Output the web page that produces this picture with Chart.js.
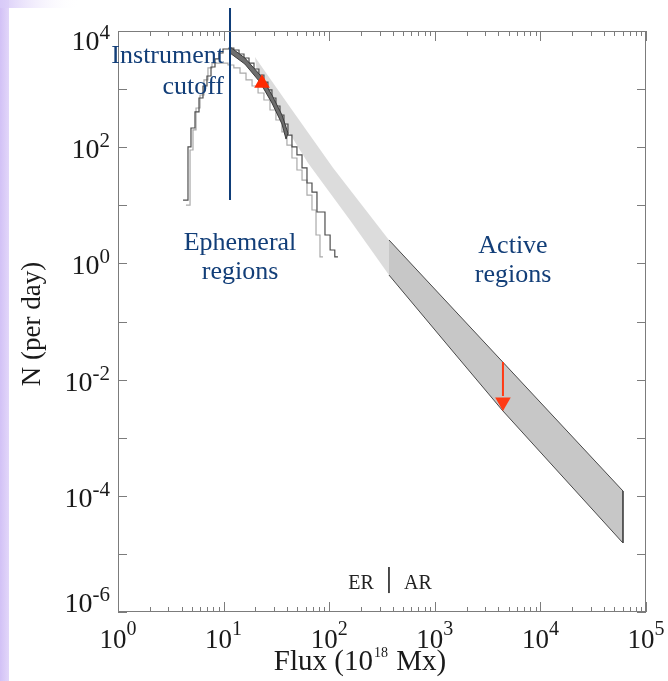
<!DOCTYPE html>
<html>
<head>
<meta charset="utf-8">
<script src="https://cdn.jsdelivr.net/npm/chart.js@4.4.1/dist/chart.umd.min.js"></script>
<style>
  html, body { margin: 0; padding: 0; background: #fff; }
  canvas { display: block; }
</style>
</head>
<body>
<canvas id="c" width="668" height="681"></canvas>
<script>
// axis ticks
const xTickValues = [1, 10, 100, 1000, 10000, 100000];
const xTickExps = ['0', '1', '2', '3', '4', '5'];
const yTickValues = [1e-6, 1e-4, 1e-2, 1, 100, 10000];
const yTickExps = ['-6', '-4', '-2', '0', '2', '4'];

// ER histograms (bin left edges, counts per day)
const darkHistFlux = [4.13, 4.60, 4.91, 5.36, 5.85, 6.38, 6.96, 7.60, 8.29, 9.04, 9.87, 11.25, 12.5, 14.0, 15.6, 17.4, 19.4, 21.6, 24.1, 26.3, 28.7, 31.3, 34.2, 37.3, 40.7, 44.4, 49.5, 55.3, 61.6, 68.7, 76.6, 91.2, 102, 113, 121];
const darkHistN = [12.3, 101, 214, 404, 703, 1130, 1680, 2400, 3300, 4180, 4900, 5100, 4710, 4020, 3430, 2810, 2220, 1750, 1320, 966, 703, 512, 358, 251, 162, 101, 73.5, 43.9, 24.2, 16.9, 7.67, 3.08, 1.70, 1.29, 1.29];
const lightHistFlux = [4.40, 4.81, 5.13, 5.48, 5.98, 6.52, 7.11, 7.76, 11.0, 12.5, 14.3, 16.3, 18.6, 21.2, 24.1, 27.5, 31.3, 35.7, 39.8, 44.4, 49.5, 55.3, 61.6, 68.7, 75.0, 81.8, 87.3];
const lightHistN = [10.1, 89.5, 198, 473, 791, 1440, 2310, 2810, 2600, 2310, 1890, 1440, 1130, 857, 649, 437, 294, 183, 109, 65.2, 40.5, 27.2, 15.0, 8.30, 3.08, 1.29, 1.29];

// ER fit band (outline, upper then lower edge)
const erFitFlux = [11.5, 15.9, 22.1, 28.7, 35.7, 40.7, 39.0, 35.7, 28.7, 22.1, 15.9, 11.5];
const erFitN = [5310, 3430, 1750, 791, 358, 175, 138, 251, 577, 1320, 2700, 4180];

// extrapolated power-law band into the ER range
const extBandFlux = [19.8, 42.5, 109, 368, 368, 157, 63.0, 34.2, 21.2];
const extBandN = [3560, 492, 43.9, 2.53, 0.631, 5.58, 53.5, 318, 1440];

// active region band (upper edge, then lower edge back)
const arBandFlux = [368, 60500, 60500, 4420, 1393, 368];
const arBandN = [2.53, 1.21e-4, 1.54e-5, 2.88e-3, 0.0350, 0.631];

// markers
const cutoffFlux = [11.5, 11.5];
const cutoffN = [24900, 12.3];
const erMarkerFlux = [23.1];
const erMarkerN = [1258];
const arArrowFlux = [4420, 4420];
const arArrowN = [0.0201, 0.00522];
const arHeadFlux = [4420];
const arHeadN = [0.00411];
const splitFlux = [368, 368];
const splitN = [5.94e-6, 2.12e-6];

const pts = (xs, ys) => xs.map((x, i) => ({ x: x, y: ys[i] }));
const serif = '"Liberation Serif", "DejaVu Serif", serif';

function drawPow(ctx, x, base, exp, align, bigFont, supFont, raise) {
  ctx.font = bigFont;
  const wb = ctx.measureText('10').width;
  ctx.font = supFont;
  const we = ctx.measureText(exp).width;
  let left = align === 'right' ? x - wb - we : x - (wb + we) / 2;
  ctx.textAlign = 'left';
  ctx.font = bigFont;
  ctx.fillText('10', left, base);
  ctx.font = supFont;
  ctx.fillText(exp, left + wb, base - raise);
}

const framePlugin = {
  id: 'frame',
  beforeDraw(chart) {
    const ctx = chart.ctx;
    ctx.save();
    ctx.fillStyle = '#fff';
    ctx.fillRect(0, 0, chart.width, chart.height);
    let g = ctx.createLinearGradient(0, 0, 10, 0);
    g.addColorStop(0, '#d2c1f6');
    g.addColorStop(1, '#e4d9fa');
    ctx.fillStyle = g;
    ctx.fillRect(0, 0, 9, chart.height);
    let g2 = ctx.createLinearGradient(0, 0, 80, 0);
    g2.addColorStop(0, '#d8caf8');
    g2.addColorStop(1, 'rgba(255,255,255,0)');
    ctx.fillStyle = g2;
    ctx.fillRect(0, 0, 80, 8);
    ctx.restore();
  },
  afterDraw(chart) {
    const ctx = chart.ctx;
    const a = chart.chartArea;
    const xs = chart.scales.x, ys = chart.scales.y;
    ctx.save();
    ctx.strokeStyle = '#7c7c7c';
    ctx.lineWidth = 1;
    ctx.strokeRect(a.left + 0.5, a.top + 0.5, a.right - a.left - 1, a.bottom - a.top - 1);

    // x ticks, bottom and top, pointing inward
    ctx.beginPath();
    for (let d = 0; d < xTickValues.length; d++) {
      const v = xTickValues[d];
      const px = Math.round(xs.getPixelForValue(v)) + 0.5;
      ctx.moveTo(px, a.bottom); ctx.lineTo(px, a.bottom - 10);
      ctx.moveTo(px, a.top); ctx.lineTo(px, a.top + 10);
      if (d < xTickValues.length - 1) {
        for (let m = 2; m <= 9; m++) {
          const mx = Math.round(xs.getPixelForValue(v * m)) + 0.5;
          ctx.moveTo(mx, a.bottom); ctx.lineTo(mx, a.bottom - 5);
          ctx.moveTo(mx, a.top); ctx.lineTo(mx, a.top + 5);
        }
      }
    }
    // y ticks every decade, left and right
    for (let e = -6; e <= 4; e++) {
      const py = Math.round(ys.getPixelForValue(Math.pow(10, e))) + 0.5;
      ctx.moveTo(a.left, py); ctx.lineTo(a.left + 9, py);
      ctx.moveTo(a.right, py); ctx.lineTo(a.right - 9, py);
    }
    ctx.stroke();

    // tick labels
    ctx.fillStyle = '#1a1a1a';
    ctx.textBaseline = 'alphabetic';
    xTickValues.forEach((v, i) => {
      drawPow(ctx, xs.getPixelForValue(v), 648, xTickExps[i], 'center',
        '27px ' + serif, '20px ' + serif, 13);
    });
    yTickValues.forEach((v, i) => {
      const py = ys.getPixelForValue(v);
      const base = Math.min(Math.max(py + 11, a.top + 19), a.bottom);
      drawPow(ctx, 110, base, yTickExps[i], 'right',
        '28px ' + serif, '21px ' + serif, 11);
    });

    // axis titles
    ctx.font = '29px ' + serif;
    const p1 = 'Flux (10', p3 = ' Mx)';
    const w1 = ctx.measureText(p1).width, w3 = ctx.measureText(p3).width;
    ctx.font = '14px ' + serif;
    const w2 = ctx.measureText('18').width + 2;
    let sx = 360 - (w1 + w2 + w3) / 2;
    ctx.font = '29px ' + serif;
    ctx.fillText(p1, sx, 670);
    ctx.font = '14px ' + serif;
    ctx.fillText('18', sx + w1 + 1, 657);
    ctx.font = '29px ' + serif;
    ctx.fillText(p3, sx + w1 + w2, 670);

    ctx.save();
    ctx.translate(40, 324);
    ctx.rotate(-Math.PI / 2);
    ctx.textAlign = 'center';
    ctx.font = '27px ' + serif;
    ctx.fillText('N (per day)', 0, 0);
    ctx.restore();

    // ER | AR marker text
    ctx.font = '20px ' + serif;
    ctx.fillStyle = '#222';
    ctx.textAlign = 'center';
    ctx.fillText('ER', 361, 589);
    ctx.fillText('AR', 418, 589);

    // annotations
    ctx.fillStyle = '#123e78';
    ctx.font = '26px ' + serif;
    ctx.textAlign = 'right';
    ctx.fillText('Instrument', 224, 63);
    ctx.fillText('cutoff', 224, 94);
    ctx.textAlign = 'center';
    ctx.fillText('Ephemeral', 240, 250);
    ctx.fillText('regions', 240, 279);
    ctx.fillText('Active', 513, 253);
    ctx.fillText('regions', 513, 282);
    ctx.restore();
  }
};

new Chart(document.getElementById('c'), {
  type: 'line',
  data: {
    datasets: [
      { label: 'extrapolation', data: pts(extBandFlux, extBandN), fill: 'shape',
        backgroundColor: 'rgba(205,205,205,0.7)', borderWidth: 0, pointRadius: 0, order: 7 },
      { label: 'AR', data: pts(arBandFlux, arBandN), fill: 'shape', cubicInterpolationMode: 'default',
        backgroundColor: '#c7c7c7', borderColor: '#4a4a4a', borderWidth: 1, pointRadius: 0, order: 6 },
      { label: 'ER hist light', data: pts(lightHistFlux, lightHistN), stepped: 'before',
        borderColor: '#a9a9a9', borderWidth: 1.2, pointRadius: 0, fill: false, order: 5 },
      { label: 'ER hist dark', data: pts(darkHistFlux, darkHistN), stepped: 'before',
        borderColor: '#4d4d4d', borderWidth: 1.2, pointRadius: 0, fill: false, order: 4 },
      { label: 'ER fit', data: pts(erFitFlux, erFitN), fill: 'shape',
        backgroundColor: '#6e6e6e', borderColor: '#3a3a3a', borderWidth: 1, pointRadius: 0, order: 3 },
      { label: 'cutoff', data: pts(cutoffFlux, cutoffN), borderColor: '#0f3d78', borderWidth: 2,
        pointRadius: 0, fill: false, clip: false, order: 2 },
      { label: 'split', data: pts(splitFlux, splitN), borderColor: '#333', borderWidth: 1,
        pointRadius: 0, fill: false, order: 2 },
      { label: 'AR arrow', data: pts(arArrowFlux, arArrowN), borderColor: '#ff3a14', borderWidth: 2,
        pointRadius: 0, fill: false, order: 1 },
      { label: 'AR head', data: pts(arHeadFlux, arHeadN), showLine: false, pointStyle: 'triangle',
        rotation: 180, pointRadius: 9, pointBackgroundColor: '#ff3a14', pointBorderWidth: 0, order: 0 },
      { label: 'ER marker', data: pts(erMarkerFlux, erMarkerN), showLine: false, pointStyle: 'triangle',
        pointRadius: 9, pointBackgroundColor: '#ff2a00', pointBorderWidth: 0, order: 0 }
    ]
  },
  options: {
    responsive: false,
    animation: false,
    layout: { padding: { left: 118, right: 22, top: 31, bottom: 69 } },
    scales: {
      x: { type: 'logarithmic', min: 1, max: 100000, display: false },
      y: { type: 'logarithmic', min: 1e-6, max: 10000, display: false }
    },
    plugins: { legend: { display: false }, tooltip: { enabled: false } }
  },
  plugins: [framePlugin]
});
</script>
</body>
</html>
